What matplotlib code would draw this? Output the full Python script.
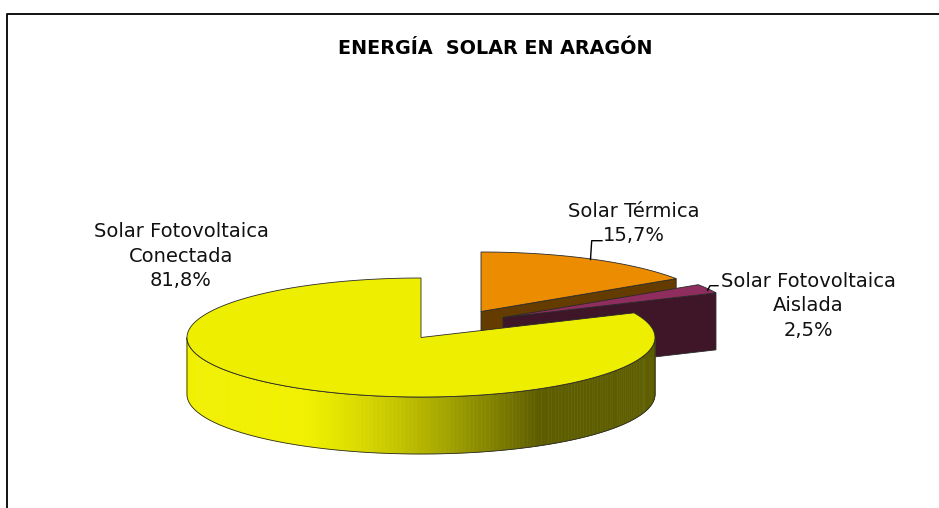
import numpy as np
import matplotlib
matplotlib.use('Agg')
import matplotlib.pyplot as plt
from matplotlib.patches import Polygon

# ---------------- data ----------------
title = 'ENERGÍA  SOLAR EN ARAGÓN'
categories = ['Solar Fotovoltaica\nConectada', 'Solar Fotovoltaica\nAislada', 'Solar Térmica']
values = [81.8, 2.5, 15.7]
pct_labels = ['81,8%', '2,5%', '15,7%']

# ---------------- style ----------------
top_colors = ['#EEEE00', '#8E2D5E', '#EC8C00']
face_colors = ['#5E5E00', '#3E1628', '#643C00']
grad_light = np.array([0xF0, 0xF0, 0x00]) / 255
grad_dark = np.array([0x5E, 0x5E, 0x00]) / 255
offsets = [(0, 0), (82, -20), (60, -26)]       # exploded slice offsets (px)
start_angle = 90
cx, cy, rx, ry, depth = 421, 337.5, 234, 59.5, 57
edge = '#2a2a2a'
label_pos = [(181, 237), (808, 286.7), (634, 216.7)]
line_step = 24.5
leaders = [None,
           [(718, 285.7), (710, 285.7), (707.5, 290.5)],
           [(602, 240.7), (591.7, 240.7), (590.5, 259.5)]]
draw_order = [2, 1, 0]

fig = plt.figure(figsize=(9.39, 5.08), dpi=100)
ax = fig.add_axes([0, 0, 1, 1])
ax.set_xlim(0, 939)
ax.set_ylim(508, 0)
ax.axis('off')

# frame
ax.plot([7, 7, 939], [508, 13.5, 13.5], color='black', lw=1.3, solid_capstyle='butt')

# angles from data
total = sum(values)
bounds = []
a = start_angle
for v in values:
    b = a + 360 * v / total
    bounds.append((a, b))
    a = b


def P(theta, off, r=1.0, z=0.0):
    t = np.radians(theta)
    return (cx + off[0] + rx * r * np.cos(t), cy + off[1] - ry * r * np.sin(t) + z)


for i in draw_order:
    a0, a1 = bounds[i]
    off = offsets[i]
    # radial cut faces
    for ang, sign in ((a0, 1), (a1, -1)):
        c = np.cos(np.radians(ang))
        if sign * c > 1e-6:
            poly = [P(ang, off, 0), P(ang, off, 1), P(ang, off, 1, depth), P(ang, off, 0, depth)]
            ax.add_patch(Polygon(poly, closed=True, facecolor=face_colors[i],
                                 edgecolor=edge, lw=0.6, zorder=2))
    # outer curved side (front half only)
    segs = []
    for base in (180, 540):
        s0, s1 = max(a0, base), min(a1, base + 180)
        if s1 > s0:
            segs.append((s0, s1))
    for s0, s1 in segs:
        th = np.linspace(s0, s1, 181)
        for k in range(len(th) - 1):
            tm = 0.5 * (th[k] + th[k + 1])
            u = np.cos(np.radians(tm))
            f = np.clip((u + 0.5) / 1.0, 0, 1) ** 1.3
            col = grad_light * (1 - f) + grad_dark * f if i == 0 else np.array(
                matplotlib.colors.to_rgb(face_colors[i]))
            quad = [P(th[k], off), P(th[k + 1], off), P(th[k + 1], off, 1, depth), P(th[k], off, 1, depth)]
            ax.add_patch(Polygon(quad, closed=True, facecolor=col, edgecolor=col, lw=0.4, zorder=2))
        outline = [P(t, off) for t in th] + [P(t, off, 1, depth) for t in th[::-1]]
        ax.add_patch(Polygon(outline, closed=True, facecolor='none', edgecolor=edge, lw=0.6, zorder=2))
    # top face
    th = np.linspace(a0, a1, max(int((a1 - a0) * 2), 8))
    top = [P(a0, off, 0)] + [P(t, off) for t in th]
    ax.add_patch(Polygon(top, closed=True, facecolor=top_colors[i], edgecolor=edge, lw=0.6, zorder=2))

# labels
for i in range(len(values)):
    lines = categories[i].split('\n') + [pct_labels[i]]
    x0, y0 = label_pos[i]
    for k, ln in enumerate(lines):
        ax.text(x0, y0 + k * line_step, ln, ha='center', va='baseline', fontsize=14,
                family='DejaVu Sans', color='#111111', zorder=5)
    if leaders[i] is not None:
        xs, ys = zip(*leaders[i])
        ax.plot(xs, ys, color='black', lw=1.0, zorder=4)

ax.text(495, 54.5, title, ha='center', va='baseline', fontsize=13.8, fontweight='bold',
        family='DejaVu Sans', color='black')

fig.savefig('out.png', dpi=100)
